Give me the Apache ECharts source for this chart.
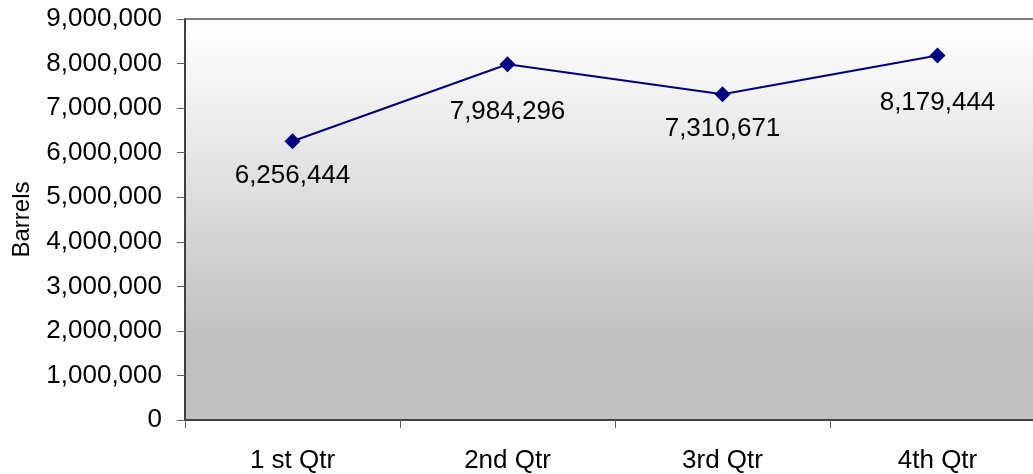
<!DOCTYPE html>
<html>
<head>
<meta charset="utf-8">
<script src="https://cdn.jsdelivr.net/npm/echarts@6/dist/echarts.min.js"></script>
<style>
  html, body { margin: 0; padding: 0; background: #fff; overflow: hidden; }
  /* plot area runs slightly past the right edge of the window */
  #chart { width: 1046px; height: 474px; }
</style>
</head>
<body>
<div id="chart"></div>
<script>
// Quarterly volumes in barrels
const quarters = ['1 st Qtr', '2nd Qtr', '3rd Qtr', '4th Qtr'];
const barrels = [6256444, 7984296, 7310671, 8179444];
const axisMax = 9000000;
const axisStep = 1000000;

const fmt = v => v.toLocaleString('en-US');
const font = 'Liberation Sans, Arial, sans-serif';

// labels on the 2nd and 4th quarter sit a little lower
const dropLabel = { 1: 13, 3: 12 };
const seriesData = barrels.map((v, i) => ({
  value: v,
  label: { offset: [0, dropLabel[i] || 0] }
}));

const chart = echarts.init(document.getElementById('chart'));
chart.setOption({
  animation: false,
  backgroundColor: '#ffffff',
  grid: {
    left: 185, top: 19, width: 860, height: 403,
    show: true,
    borderColor: '#808080',
    borderWidth: 2,
    backgroundColor: new echarts.graphic.LinearGradient(0, 0, 0, 1, [
      { offset: 0, color: '#ffffff' },
      { offset: 0.05, color: '#fdfdfd' },
      { offset: 0.8, color: '#c0c0c0' },
      { offset: 1, color: '#c0c0c0' }
    ])
  },
  xAxis: {
    type: 'category',
    data: quarters,
    boundaryGap: true,
    axisLine: { lineStyle: { color: '#404040', width: 2 } },
    axisTick: { show: true, length: 8, lineStyle: { color: '#606060', width: 1 } },
    axisLabel: { color: '#000', fontFamily: font, fontSize: 26, margin: 28 },
    splitLine: { show: false }
  },
  yAxis: {
    type: 'value',
    min: 0, max: axisMax, interval: axisStep,
    name: 'Barrels',
    nameLocation: 'middle',
    nameGap: 151,
    nameRotate: 90,
    nameTextStyle: { color: '#000', fontFamily: font, fontSize: 24 },
    axisLine: { show: true, lineStyle: { color: '#404040', width: 2 } },
    axisTick: { show: true, length: 8, lineStyle: { color: '#606060', width: 1 } },
    axisLabel: { color: '#000', fontFamily: font, fontSize: 26, margin: 23, formatter: fmt },
    splitLine: { show: false }
  },
  series: [{
    type: 'line',
    data: seriesData,
    symbol: 'diamond',
    symbolSize: 16,
    lineStyle: { color: '#000080', width: 2 },
    itemStyle: { color: '#000080' },
    label: {
      show: true, position: 'bottom', distance: 14,
      color: '#000', fontFamily: font, fontSize: 26,
      formatter: p => fmt(p.value)
    }
  }]
});
</script>
</body>
</html>
